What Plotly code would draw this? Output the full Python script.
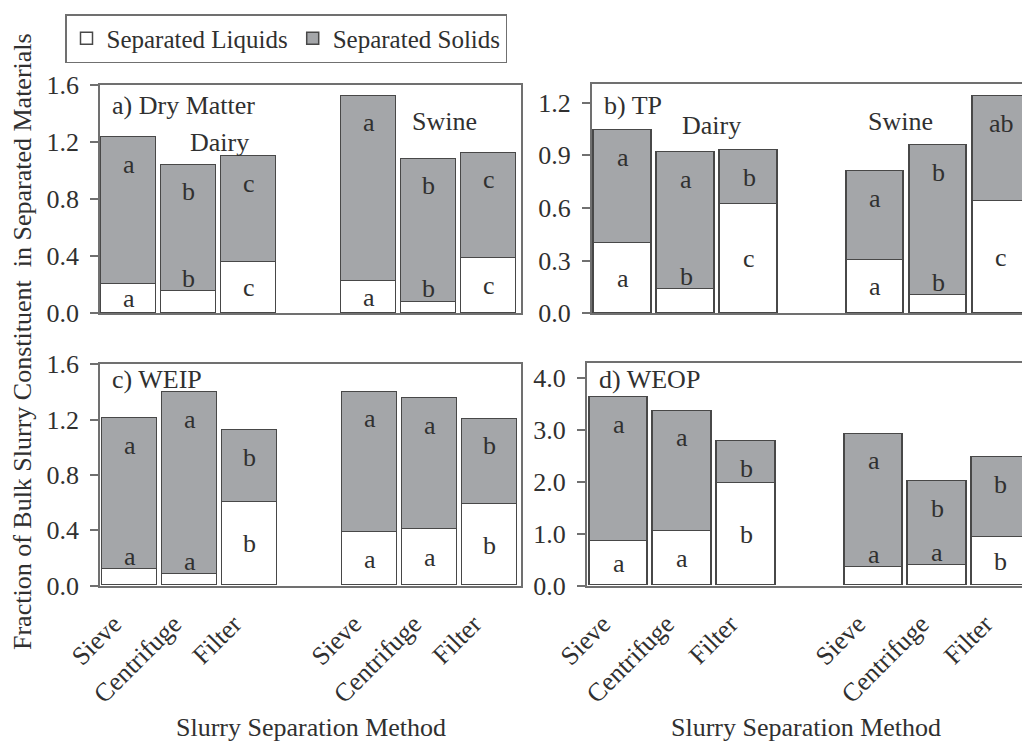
import plotly.graph_objects as go

# ---------------- data ----------------
methods = ["Sieve", "Centrifuge", "Filter"]
animals = ["Dairy", "Swine"]

dm_liquids = [0.205, 0.156, 0.36, 0.226, 0.081, 0.39]
dm_solids = [1.03, 0.884, 0.74, 1.30, 1.003, 0.736]
dm_liq_letters = ["a", "b", "c", "a", "b", "c"]
dm_sol_letters = ["a", "b", "c", "a", "b", "c"]

tp_liquids = [0.40, 0.137, 0.619, 0.304, 0.104, 0.636]
tp_solids = [0.644, 0.782, 0.31, 0.503, 0.855, 0.598]
tp_liq_letters = ["a", "b", "c", "a", "b", "c"]
tp_sol_letters = ["a", "a", "b", "a", "b", "ab"]

weip_liquids = [0.118, 0.082, 0.605, 0.383, 0.405, 0.588]
weip_solids = [1.092, 1.315, 0.52, 1.017, 0.951, 0.617]
weip_liq_letters = ["a", "a", "b", "a", "a", "b"]
weip_sol_letters = ["a", "a", "b", "a", "a", "b"]

weop_liquids = [0.85, 1.055, 1.975, 0.347, 0.386, 0.926]
weop_solids = [2.78, 2.315, 0.805, 2.583, 1.62, 1.544]
weop_liq_letters = ["a", "a", "b", "a", "a", "b"]
weop_sol_letters = ["a", "a", "b", "a", "b", "b"]

panel_titles = ["a) Dry Matter", "b) TP", "c) WEIP", "d) WEOP"]
series_names = ["Separated Liquids", "Separated Solids"]
y_title = "Fraction of Bulk Slurry Constituent  in Separated Materials"
x_title = "Slurry Separation Method"

# ---------------- style / layout ----------------
W, H = 1022, 741
FONT = "Liberation Serif, 'Times New Roman', Times, serif"
TXT = "#303030"
AXC = "#707070"
BAR_LINE = "#484848"
LIQ_COLOR = "#ffffff"
SOL_COLOR = "#a4a6a9"
FS = 26

# x position of each bar: group * 4 + method index
cats = [(a, m) for a in animals for m in methods]
xpos = [animals.index(a) * 4 + methods.index(m) for a, m in cats]

panels = [
    dict(liq=dm_liquids, sol=dm_solids, ll=dm_liq_letters, sl=dm_sol_letters,
         xpx=(100, 521), ypx=(85, 313.3), xr=(-0.475, 6.54), yr=(0, 1.6), dt=0.4,
         right=True, bottom=False, title_px=(110, 105), lab_off=0.27,
         groups=[(1.51, 1.2), (5.27, 1.347)]),
    dict(liq=tp_liquids, sol=tp_solids, ll=tp_liq_letters, sl=tp_sol_letters,
         xpx=(591.7, 1022), ypx=(84.3, 313.3), xr=(-0.497, 6.33), yr=(0, 1.305), dt=0.3,
         right=False, bottom=False, title_px=(601.7, 105), lab_off=0.25,
         groups=[(1.41, 1.073), (4.4, 1.092)]),
    dict(liq=weip_liquids, sol=weip_solids, ll=weip_liq_letters, sl=weip_sol_letters,
         xpx=(100, 521), ypx=(364.3, 585.7), xr=(-0.5, 6.52), yr=(0, 1.6), dt=0.4,
         right=True, bottom=True, title_px=(110, 380), lab_off=0.27, groups=None),
    dict(liq=weop_liquids, sol=weop_solids, ll=weop_liq_letters, sl=weop_sol_letters,
         xpx=(586.7, 1022), ypx=(363.3, 585.7), xr=(-0.502, 6.33), yr=(0, 4.29), dt=1.0,
         right=False, bottom=True, title_px=(596.7, 379), lab_off=0.25, groups=None),
]

fig = go.Figure()
annotations = []
layout = {}

for i, p in enumerate(panels):
    sfx = "" if i == 0 else str(i + 1)
    xa, ya = "x" + sfx, "y" + sfx
    for k, (vals, col, name) in enumerate([(p["liq"], LIQ_COLOR, series_names[0]),
                                           (p["sol"], SOL_COLOR, series_names[1])]):
        fig.add_trace(go.Bar(
            x=xpos, y=vals, name=name, xaxis=xa, yaxis=ya, width=0.917,
            marker=dict(color=col, line=dict(color=BAR_LINE, width=1.5)),
            showlegend=(i == 0), legendgroup=name, hoverinfo="skip"))

    x0, x1 = p["xpx"][0] / W, min(p["xpx"][1] / W, 1.0)
    y0, y1 = 1 - p["ypx"][1] / H, 1 - p["ypx"][0] / H
    ph = p["ypx"][1] - p["ypx"][0]
    layout["xaxis" + sfx] = dict(
        domain=[x0, x1], range=list(p["xr"]), anchor=ya, automargin=False,
        tickvals=[v - p["lab_off"] for v in xpos], ticktext=[m for a, m in cats],
        tickangle=-45, showticklabels=p["bottom"],
        ticks="", showline=True, linecolor=AXC, linewidth=1.5, mirror=True,
        showgrid=False, zeroline=False, ticklabelstandoff=11,
        tickfont=dict(family=FONT, size=FS, color=TXT))
    layout["yaxis" + sfx] = dict(
        domain=[y0, y1], range=list(p["yr"]), anchor=xa, automargin=False,
        tick0=0, dtick=p["dt"], tickformat=".1f", ticks="outside", ticklen=8,
        tickcolor=AXC, tickwidth=1.5, ticklabelstandoff=6,
        showline=True, linecolor=AXC, linewidth=1.5, mirror=p["right"],
        showgrid=False, zeroline=False,
        tickfont=dict(family=FONT, size=FS, color=TXT))

    # letters
    yspan = p["yr"][1] - p["yr"][0]
    for xv, lq, sd, ltl, lts in zip(xpos, p["liq"], p["sol"], p["ll"], p["sl"]):
        top = lq + sd
        annotations.append(dict(x=xv, y=top, xref=xa, yref=ya, text=lts, showarrow=False,
                                yanchor="middle", yshift=-27,
                                font=dict(family=FONT, size=FS, color=TXT)))
        lq_px = lq / yspan * ph
        if lq_px < 25:
            ly, ys = lq, 13
        else:
            ly, ys = lq / 2, 0
            if lq_px / 2 < 13:
                ys = 13 - lq_px / 2
        annotations.append(dict(x=xv, y=ly, xref=xa, yref=ya, text=ltl, showarrow=False,
                                yanchor="middle", yshift=ys,
                                font=dict(family=FONT, size=FS, color=TXT)))
    # panel title
    annotations.append(dict(x=p["title_px"][0] / W, y=1 - p["title_px"][1] / H,
                            xref="paper", yref="paper", text=panel_titles[i],
                            showarrow=False, xanchor="left", yanchor="middle",
                            font=dict(family=FONT, size=FS, color=TXT)))
    if p["groups"]:
        for (gx, gy), g in zip(p["groups"], animals):
            annotations.append(dict(x=gx, y=gy, xref=xa, yref=ya, text=g, showarrow=False,
                                    xanchor="center", yanchor="middle",
                                    font=dict(family=FONT, size=FS, color=TXT)))

# shared axis titles
annotations.append(dict(x=22 / W, y=1 - 342 / H, xref="paper", yref="paper", text=y_title,
                        textangle=-90, showarrow=False, xanchor="center", yanchor="middle",
                        font=dict(family=FONT, size=FS, color=TXT)))
for cx in (311, 806):
    annotations.append(dict(x=cx / W, y=1 - 727 / H, xref="paper", yref="paper", text=x_title,
                            showarrow=False, xanchor="center", yanchor="middle",
                            font=dict(family=FONT, size=FS, color=TXT)))

fig.update_layout(
    width=W, height=H, margin=dict(l=0, r=0, t=0, b=0, autoexpand=False),
    paper_bgcolor="white", plot_bgcolor="white", barmode="stack", bargap=0,
    font=dict(family=FONT, size=FS, color=TXT),
    legend=dict(orientation="h", x=65 / W, y=1 - 14 / H, xanchor="left", yanchor="top",
                bordercolor=AXC, borderwidth=1.5, bgcolor="white",
                font=dict(family=FONT, size=FS - 1, color=TXT), traceorder="normal"),
    annotations=annotations, **layout)

fig.write_html("out.html", config={"displayModeBar": False},
               post_script="document.body.style.margin='0px';document.body.style.padding='0px';")
